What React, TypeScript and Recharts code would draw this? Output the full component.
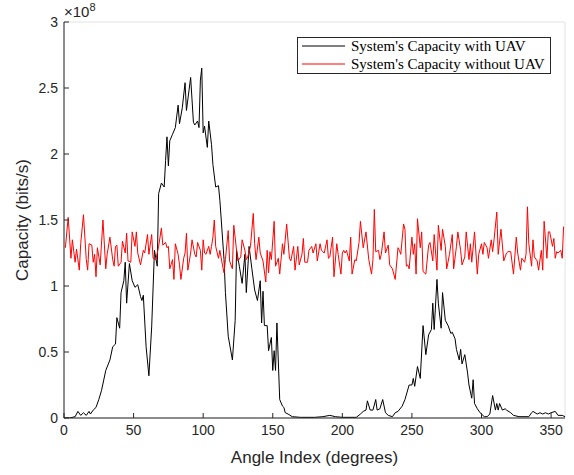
import { CartesianGrid, Customized, Line, LineChart, XAxis, YAxis } from 'recharts';

// Capacity in units of 1e8 bits/s, sampled against the beam angle (degrees)
const withUavAngle = [
  0, 4, 8, 10, 12, 14, 16, 18, 19, 21, 23, 25, 27, 30, 33, 35, 37, 38, 40, 41, 43, 44, 45, 47, 49, 51, 53, 55, 56,
  57, 59, 61, 63, 65, 67, 68, 70, 72, 73, 74, 75, 76, 78, 80, 82, 83, 85, 87, 88, 91, 93, 94, 96, 97, 98, 99, 100,
  101, 103, 104, 106, 107, 109, 111, 112, 113, 115, 116, 118, 121, 123, 124, 126, 128, 130, 131, 133, 135, 137, 139,
  141, 142, 143, 144, 146, 147, 149, 150, 151, 152, 153, 155, 157, 158, 159, 161, 164, 170, 180, 186, 191, 195, 200,
  210, 213, 215, 217, 218, 220, 222, 224, 225, 227, 229, 231, 233, 236, 238, 240, 243, 245, 248, 250, 251, 252, 254,
  256, 258, 260, 262, 264, 265, 266, 268, 269, 271, 272, 274, 276, 278, 279, 281, 282, 284, 285, 286, 288, 290, 291,
  293, 294, 295, 297, 299, 302, 304, 306, 308, 310, 311, 312, 313, 315, 317, 318, 321, 323, 327, 334, 336, 337, 340,
  342, 344, 346, 348, 350, 353, 355, 358, 360,
];
const withUavCap = [
  0.0, 0.0, 0.01, 0.05, 0.02, 0.04, 0.02, 0.05, 0.03, 0.06, 0.08, 0.14, 0.21, 0.36, 0.44, 0.54, 0.56, 0.76, 0.68, 0.95,
  1.04, 1.18, 0.87, 1.17, 1.04, 0.99, 1.01, 0.92, 0.89, 0.93, 0.54, 0.32, 0.69, 1.27, 1.15, 1.7, 1.78, 1.75, 1.95,
  2.13, 1.91, 2.1, 2.15, 2.2, 2.37, 2.23, 2.35, 2.54, 2.33, 2.58, 2.24, 2.22, 2.25, 2.2, 2.56, 2.65, 2.16, 2.21, 2.05,
  2.25, 2.07, 1.92, 1.75, 1.76, 1.65, 1.5, 1.2, 0.95, 0.62, 0.44, 0.74, 1.27, 1.15, 1.02, 1.24, 0.95, 1.3, 1.13, 0.97,
  0.89, 1.04, 0.72, 0.96, 0.7, 0.7, 0.51, 0.61, 0.36, 0.51, 0.36, 0.72, 0.14, 0.09, 0.08, 0.04, 0.03, 0.01, 0.005,
  0.005, 0.01, 0.02, 0.01, 0.005, 0.005, 0.03, 0.05, 0.06, 0.13, 0.06, 0.06, 0.14, 0.06, 0.07, 0.14, 0.04, 0.02, 0.01,
  0.04, 0.05, 0.09, 0.14, 0.25, 0.25, 0.3, 0.24, 0.39, 0.3, 0.7, 0.48, 0.63, 0.67, 0.87, 0.67, 1.05, 0.87, 0.68, 0.95,
  0.74, 0.7, 0.64, 0.65, 0.6, 0.52, 0.44, 0.52, 0.41, 0.48, 0.34, 0.25, 0.15, 0.29, 0.11, 0.07, 0.04, 0.01, 0.01, 0.03,
  0.17, 0.06, 0.11, 0.06, 0.11, 0.06, 0.07, 0.06, 0.04, 0.02, 0.01, 0.01, 0.04, 0.05, 0.03, 0.04, 0.03, 0.04, 0.03,
  0.04, 0.05, 0.02, 0.02, 0.01,
];

const withoutUavAngle = [
  1, 3, 5, 6, 8, 9, 11, 12, 14, 16, 17, 18, 20, 21, 22, 23, 24, 26, 28, 30, 31, 33, 35, 36, 37, 38, 39, 41, 42, 44,
  45, 46, 48, 49, 51, 52, 53, 55, 57, 58, 60, 61, 63, 64, 66, 68, 70, 71, 73, 74, 75, 76, 78, 79, 80, 82, 83, 84, 86,
  87, 88, 89, 91, 92, 94, 95, 96, 98, 99, 100, 101, 102, 104, 105, 106, 107, 108, 109, 111, 112, 114, 115, 116, 118,
  119, 121, 122, 124, 125, 127, 128, 130, 131, 132, 134, 136, 137, 138, 140, 141, 142, 143, 145, 146, 147, 148, 149,
  151, 152, 154, 155, 157, 158, 160, 162, 163, 165, 166, 168, 169, 171, 172, 173, 175, 176, 178, 179, 181, 182, 184,
  185, 187, 189, 190, 191, 193, 194, 196, 197, 199, 200, 201, 202, 203, 205, 206, 207, 209, 210, 212, 213, 215, 217,
  219, 221, 222, 223, 224, 226, 227, 228, 230, 231, 233, 234, 236, 238, 240, 241, 242, 244, 245, 246, 247, 248, 250,
  251, 252, 253, 254, 256, 257, 258, 260, 262, 263, 265, 266, 268, 269, 271, 272, 274, 275, 277, 279, 280, 282, 283,
  285, 286, 288, 289, 291, 292, 293, 295, 297, 298, 300, 301, 302, 304, 305, 307, 308, 309, 311, 312, 314, 316, 318,
  319, 321, 323, 325, 326, 328, 329, 331, 332, 333, 334, 336, 337, 338, 340, 341, 343, 344, 345, 347, 348, 349, 351,
  352, 353, 354, 355, 357, 358, 359,
];
const withoutUavCap = [
  1.29, 1.52, 1.21, 1.35, 1.18, 1.28, 1.12, 1.32, 1.54, 1.2, 1.12, 1.32, 1.31, 1.18, 1.24, 1.07, 1.29, 1.16, 1.5, 1.13,
  1.24, 1.37, 1.2, 1.15, 1.3, 1.31, 1.15, 1.18, 1.34, 1.25, 1.4, 1.19, 1.18, 1.41, 1.3, 1.41, 1.25, 1.16, 1.27, 1.25,
  1.39, 1.24, 1.39, 1.21, 1.2, 1.3, 1.44, 1.31, 1.33, 1.29, 1.3, 1.13, 1.2, 1.05, 1.32, 1.24, 1.16, 1.05, 1.21, 1.25,
  1.4, 1.12, 1.25, 1.35, 1.24, 1.22, 1.33, 1.27, 1.12, 1.35, 1.25, 1.24, 1.3, 1.24, 1.3, 1.37, 1.5, 1.3, 1.21, 1.27,
  1.15, 1.1, 1.2, 1.42, 1.19, 1.13, 1.46, 1.27, 1.19, 1.22, 1.35, 1.27, 1.2, 1.22, 1.3, 1.55, 1.32, 1.2, 1.37, 1.25,
  1.22, 1.19, 1.03, 1.27, 1.1, 1.26, 1.2, 1.49, 1.15, 1.21, 1.09, 1.32, 1.24, 1.47, 1.21, 1.19, 1.3, 1.12, 1.3, 1.16,
  1.24, 1.36, 1.18, 1.18, 1.27, 1.3, 1.25, 1.32, 1.19, 1.32, 1.27, 1.25, 1.35, 1.21, 1.22, 1.37, 1.07, 1.32, 1.24,
  1.09, 1.25, 1.27, 1.25, 1.27, 1.19, 1.37, 1.09, 1.2, 1.19, 1.33, 1.49, 1.29, 1.41, 1.2, 1.09, 1.2, 1.58, 1.26, 1.27,
  1.2, 1.24, 1.41, 1.25, 1.31, 1.16, 1.13, 1.05, 1.29, 1.27, 1.24, 1.47, 1.43, 1.15, 1.16, 1.13, 1.37, 1.24, 1.32,
  1.09, 1.51, 1.29, 1.41, 1.11, 1.09, 1.31, 1.33, 1.19, 1.39, 1.12, 1.46, 1.27, 1.43, 1.3, 1.13, 1.24, 1.39, 1.13, 1.3,
  1.41, 1.27, 1.16, 1.22, 1.41, 1.2, 1.32, 1.18, 1.41, 1.09, 1.24, 1.32, 1.24, 1.33, 1.29, 1.21, 1.35, 1.26, 1.35,
  1.56, 1.24, 1.43, 1.19, 1.25, 1.26, 1.26, 1.09, 1.37, 1.25, 1.12, 1.21, 1.18, 1.24, 1.6, 1.32, 1.15, 1.35, 1.22,
  1.19, 1.12, 1.27, 1.12, 1.49, 1.21, 1.41, 1.41, 1.3, 1.36, 1.21, 1.26, 1.25, 1.27, 1.21, 1.45,
];

const angleTicks = [0, 50, 100, 150, 200, 250, 300, 350];
const capTicks = [0, 0.5, 1, 1.5, 2, 2.5, 3];
const seriesNames = ["System's Capacity with UAV", "System's Capacity without UAV"];

const withUav = withUavAngle.map((angle, i) => ({ angle, cap: withUavCap[i] }));
const withoutUav = withoutUavAngle.map((angle, i) => ({ angle, cap: withoutUavCap[i] }));

const AXIS = '#262626';
const GRID = '#e3e3e3';
const FONT = '"Liberation Sans", Arial, Helvetica, sans-serif';
const SERIF = '"Liberation Serif", "DejaVu Serif", serif';

function Overlay() {
  return (
    <g>
      {/* axis exponent */}
      <text x={64} y={17} fontSize={15} fill={AXIS} fontFamily={FONT}>
        ×10<tspan dy={-6} fontSize={11}>8</tspan>
      </text>
      {/* legend */}
      <rect x={297.5} y={37.5} width={253} height={36} fill="#fff" stroke={AXIS} strokeWidth={1} />
      <line x1={302} x2={345} y1={46} y2={46} stroke="#000" strokeWidth={1} />
      <line x1={302} x2={345} y1={64} y2={64} stroke="#ff0000" strokeWidth={1} />
      <text x={351} y={50.5} fontSize={15} fontFamily={SERIF} fill="#000">
        {seriesNames[0]}
      </text>
      <text x={351} y={68.5} fontSize={15} fontFamily={SERIF} fill="#000">
        {seriesNames[1]}
      </text>
    </g>
  );
}

export default function App() {
  const tickStyle = { fill: AXIS, fontSize: 14, fontFamily: FONT };
  return (
    <div style={{ position: 'absolute', left: 0, top: 0, background: '#fff' }}>
      <LineChart width={574} height={475} margin={{ top: 22, right: 9, left: 0, bottom: 0 }}>
        <CartesianGrid stroke={GRID} strokeWidth={1} />
        <XAxis
          xAxisId="main"
          type="number"
          dataKey="angle"
          domain={[0, 360]}
          ticks={angleTicks}
          height={57}
          stroke={AXIS}
          tickSize={-5}
          tickMargin={12}
          tick={tickStyle}
          allowDataOverflow
          label={{ value: 'Angle Index (degrees)', position: 'insideBottom', offset: 12, fill: AXIS, fontSize: 17, fontFamily: FONT }}
        />
        <XAxis xAxisId="top" orientation="top" type="number" domain={[0, 360]} ticks={angleTicks} height={0} stroke={AXIS} tickSize={-5} tick={false} allowDataOverflow />
        <YAxis
          yAxisId="main"
          type="number"
          domain={[0, 3]}
          ticks={capTicks}
          width={64}
          stroke={AXIS}
          tickSize={-5}
          tickMargin={11}
          tick={tickStyle}
          allowDataOverflow
          label={{ value: 'Capacity (bits/s)', angle: -90, position: 'insideLeft', offset: 22, fill: AXIS, fontSize: 17, fontFamily: FONT, style: { textAnchor: 'middle' } }}
        />
        <YAxis yAxisId="right" orientation="right" type="number" domain={[0, 3]} ticks={capTicks} width={0} stroke={AXIS} tickSize={-5} tick={false} allowDataOverflow />
        <Line
          xAxisId="main"
          yAxisId="main"
          data={withUav}
          dataKey="cap"
          name={seriesNames[0]}
          stroke="#000"
          strokeWidth={1}
          dot={false}
          type="linear"
          isAnimationActive={false}
        />
        <Line
          xAxisId="main"
          yAxisId="main"
          data={withoutUav}
          dataKey="cap"
          name={seriesNames[1]}
          stroke="#ff0000"
          strokeWidth={1}
          dot={false}
          type="linear"
          isAnimationActive={false}
        />
        <Customized component={Overlay} />
      </LineChart>
    </div>
  );
}
